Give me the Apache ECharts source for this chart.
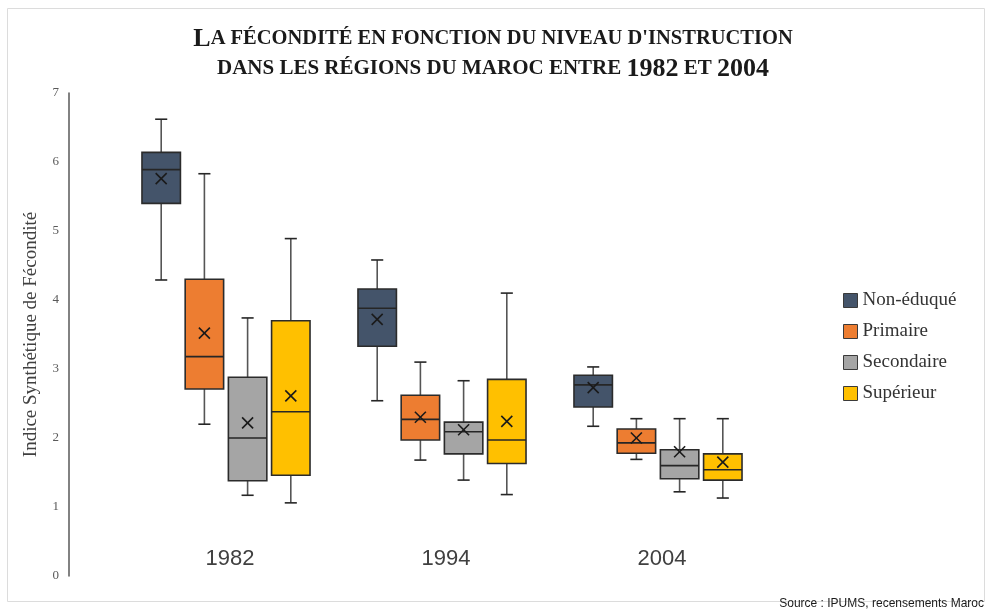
<!DOCTYPE html>
<html>
<head>
<meta charset="utf-8">
<script src="https://cdn.jsdelivr.net/npm/echarts@6/dist/echarts.min.js"></script>
<style>
  html, body { margin: 0; padding: 0; background: #ffffff; }
  #chart { width: 986px; height: 613px; }
</style>
</head>
<body>
<div id="chart"></div>
<script>
// ---- Data ----
const years = ['1982', '1994', '2004'];
const levels = ['Non-éduqué', 'Primaire', 'Secondaire', 'Supérieur'];
// each row: [min, Q1, median, Q3, max] for 1982, 1994, 2004
const nonEduqueBox = [[4.29, 5.40, 5.89, 6.14, 6.62], [2.54, 3.33, 3.88, 4.16, 4.58], [2.17, 2.45, 2.77, 2.91, 3.03]];
const nonEduqueMean = [5.76, 3.72, 2.73];
const primaireBox = [[2.20, 2.71, 3.18, 4.30, 5.83], [1.68, 1.97, 2.27, 2.62, 3.10], [1.69, 1.78, 1.93, 2.13, 2.28]];
const primaireMean = [3.52, 2.30, 2.00];
const secondaireBox = [[1.17, 1.38, 2.00, 2.88, 3.74], [1.39, 1.77, 2.09, 2.23, 2.83], [1.22, 1.41, 1.60, 1.83, 2.28]];
const secondaireMean = [2.22, 2.12, 1.80];
const superieurBox = [[1.06, 1.46, 2.38, 3.70, 4.89], [1.18, 1.63, 1.97, 2.85, 4.10], [1.13, 1.39, 1.54, 1.77, 2.28]];
const superieurMean = [2.61, 2.24, 1.65];
const yMin = 0, yMax = 7, yStep = 1;

const boxes = [nonEduqueBox, primaireBox, secondaireBox, superieurBox];
const means = [nonEduqueMean, primaireMean, secondaireMean, superieurMean];
const colors = ['#44546A', '#ED7D31', '#A5A5A5', '#FFC000'];

const chart = echarts.init(document.getElementById('chart'), null, { renderer: 'canvas' });

function renderBox(slot) {
  return function (params, api) {
    const i = api.value(0);
    const band = api.size([1, 0])[0];
    const dx = (slot - 1.5) * band * 0.2;
    const pt = function (v) { const c = api.coord([i, v]); return [c[0] + dx, c[1]]; };
    const pMin = pt(api.value(1)), pQ1 = pt(api.value(2)), pMed = pt(api.value(3)),
          pQ3 = pt(api.value(4)), pMax = pt(api.value(5)), pMean = pt(api.value(6));
    const cx = pMin[0];
    const half = band * 0.089;
    const cap = band * 0.028;
    const xs = 5.5;
    const fill = api.visual('color');
    const whisk = { stroke: '#555555', lineWidth: 1.6 };
    const dark = { stroke: '#262626', lineWidth: 1.6 };
    return {
      type: 'group',
      children: [
        { type: 'line', shape: { x1: cx, y1: pMax[1], x2: cx, y2: pQ3[1] }, style: whisk },
        { type: 'line', shape: { x1: cx, y1: pQ1[1], x2: cx, y2: pMin[1] }, style: whisk },
        { type: 'line', shape: { x1: cx - cap, y1: pMax[1], x2: cx + cap, y2: pMax[1] }, style: dark },
        { type: 'line', shape: { x1: cx - cap, y1: pMin[1], x2: cx + cap, y2: pMin[1] }, style: dark },
        { type: 'rect', shape: { x: cx - half, y: pQ3[1], width: half * 2, height: pQ1[1] - pQ3[1] },
          style: { fill: fill, stroke: '#2b2b2b', lineWidth: 1.6 } },
        { type: 'line', shape: { x1: cx - half, y1: pMed[1], x2: cx + half, y2: pMed[1] }, style: dark },
        { type: 'line', shape: { x1: cx - xs, y1: pMean[1] - xs, x2: cx + xs, y2: pMean[1] + xs }, style: { stroke: '#1a1a1a', lineWidth: 1.6 } },
        { type: 'line', shape: { x1: cx - xs, y1: pMean[1] + xs, x2: cx + xs, y2: pMean[1] - xs }, style: { stroke: '#1a1a1a', lineWidth: 1.6 } }
      ]
    };
  };
}

const series = levels.map(function (name, s) {
  return {
    name: name,
    type: 'custom',
    renderItem: renderBox(s),
    itemStyle: { color: colors[s] },
    encode: { x: 0, y: [1, 2, 3, 4, 5, 6] },
    data: years.map(function (y, k) { return [k].concat(boxes[s][k], [means[s][k]]); }),
    clip: false
  };
});

const serif = '"Liberation Serif", "Times New Roman", serif';
const sans = '"Liberation Sans", Arial, sans-serif';
const titleRich1 = {
  b: { fontFamily: serif, fontWeight: 'bold', fontSize: 26, color: '#1a1a1a' },
  s: { fontFamily: serif, fontWeight: 'bold', fontSize: 20.5, color: '#1a1a1a' }
};
const titleRich2 = {
  b: { fontFamily: serif, fontWeight: 'bold', fontSize: 26, color: '#1a1a1a' },
  s: { fontFamily: serif, fontWeight: 'bold', fontSize: 21, color: '#1a1a1a' }
};

chart.setOption({
  animation: false,
  backgroundColor: '#ffffff',
  title: [
    { text: "{b|L}{s|A FÉCONDITÉ EN FONCTION DU NIVEAU D'INSTRUCTION}", left: 'center', top: 21, textStyle: { rich: titleRich1 } },
    { text: '{s|DANS LES RÉGIONS DU MAROC ENTRE }{b|1982}{s| ET }{b|2004}', left: 'center', top: 51, textStyle: { rich: titleRich2 } }
  ],
  legend: {
    orient: 'vertical',
    left: 838, top: 286,
    itemWidth: 14, itemHeight: 14, itemGap: 12,
    textStyle: { fontFamily: serif, fontSize: 19, color: '#333333' },
    data: levels.map(function (n, s) {
      return { name: n, icon: 'rect', itemStyle: { color: colors[s], borderColor: '#3a3a3a', borderWidth: 1 } };
    })
  },
  grid: { left: 118, width: 648, top: 93, bottom: 37 },
  xAxis: {
    type: 'category',
    data: years,
    offset: -28,
    axisLine: { show: false },
    axisTick: { show: false },
    splitLine: { show: false },
    axisLabel: { margin: 0, fontFamily: sans, fontSize: 22, color: '#404040', padding: [0, 0, 0, 8] }
  },
  yAxis: {
    type: 'value',
    min: yMin, max: yMax, interval: yStep,
    offset: 49,
    name: 'Indice Synthétique de Fécondité',
    nameLocation: 'middle',
    nameGap: 28,
    nameTextStyle: { fontFamily: serif, fontSize: 19, color: '#404040' },
    axisLine: { show: true, lineStyle: { color: '#595959', width: 1.5 } },
    axisTick: { show: false },
    splitLine: { show: false },
    axisLabel: { margin: 10, fontFamily: serif, fontSize: 13, color: '#595959' }
  },
  graphic: [
    { type: 'rect', silent: true, z: -1, shape: { x: 7.5, y: 8.5, width: 977, height: 593 },
      style: { fill: 'none', stroke: '#dcdcdc', lineWidth: 1 } },
    { type: 'text', right: 2, top: 598,
      style: { text: 'Source : IPUMS, recensements Maroc', fontFamily: sans, fontSize: 12, fill: '#1a1a1a' } }
  ],
  series: series
});
</script>
</body>
</html>
